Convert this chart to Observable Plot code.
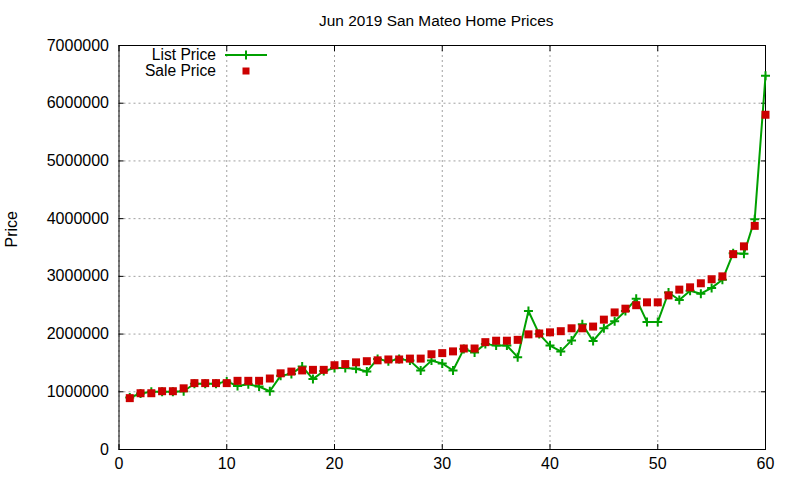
<!DOCTYPE html>
<html>
<head>
<meta charset="utf-8">
<script src="https://cdn.jsdelivr.net/npm/d3@7"></script>
<script src="https://cdn.jsdelivr.net/npm/@observablehq/plot@0.6"></script>
<style>
  html, body { margin: 0; padding: 0; background: white; }
  #wrap { position: relative; width: 800px; height: 480px; font-family: "Liberation Sans", Arial, sans-serif; }
  #legend { position: absolute; left: 0; top: 0; width: 800px; height: 480px; pointer-events: none; }
  .lg { position: absolute; left: 0; width: 216px; text-align: right; font-size: 15.6px; line-height: 16px; color: #000; white-space: nowrap; }
</style>
</head>
<body>
<div id="wrap"></div>
<script>
// ---- data ----
const rank = [1,2,3,4,5,6,7,8,9,10,11,12,13,14,15,16,17,18,19,20,21,22,23,24,25,26,27,28,29,30,31,32,33,34,35,36,37,38,39,40,41,42,43,44,45,46,47,48,49,50,51,52,53,54,55,56,57,58,59,60];
const listPrice = [900000,970000,1000000,1000000,1000000,1010000,1140000,1140000,1140000,1180000,
  1100000,1130000,1090000,1010000,1280000,1310000,1440000,1220000,1360000,1410000,
  1410000,1400000,1350000,1570000,1530000,1570000,1540000,1370000,1540000,1490000,
  1370000,1740000,1680000,1830000,1800000,1800000,1600000,2400000,2000000,1800000,
  1700000,1890000,2170000,1880000,2100000,2220000,2400000,2610000,2210000,2210000,
  2720000,2590000,2750000,2700000,2800000,2940000,3400000,3390000,3990000,6475000];
const salePrice = [890000,975000,975000,1010000,1010000,1060000,1150000,1150000,1150000,1150000,
  1190000,1190000,1190000,1230000,1320000,1350000,1370000,1380000,1380000,1460000,
  1480000,1510000,1530000,1545000,1560000,1560000,1575000,1575000,1650000,1670000,
  1700000,1750000,1750000,1860000,1885000,1885000,1900000,1995000,2010000,2030000,
  2050000,2100000,2100000,2130000,2250000,2375000,2440000,2500000,2550000,2550000,
  2670000,2770000,2810000,2880000,2950000,3000000,3385000,3520000,3875000,5800000];
const xTicks = [0,10,20,30,40,50,60];
const yTicks = [0,1000000,2000000,3000000,4000000,5000000,6000000,7000000];
const titleText = "Jun 2019 San Mateo Home Prices";
const yLabel = "Price";
const seriesNames = ["List Price", "Sale Price"];

const green = "#00a000";
const red = "#cc0000";

const data = rank.map((r, i) => ({rank: r, list: listPrice[i], sale: salePrice[i]}));

const plusSymbol = {draw(ctx) { const a = 4.5; ctx.moveTo(-a, 0); ctx.lineTo(a, 0); ctx.moveTo(0, -a); ctx.lineTo(0, a); }};
const squareSymbol = {draw(ctx) { const h = 4; ctx.rect(-h, -h, 2 * h, 2 * h); }};

const gridStyle = {stroke: "#a0a0a0", strokeOpacity: 1, strokeWidth: 1, strokeDasharray: "2,3"};

const chart = Plot.plot({
  width: 800,
  height: 480,
  marginLeft: 118.5,
  marginRight: 35,
  marginTop: 45,
  marginBottom: 31,
  style: {fontFamily: "'Liberation Sans', Arial, sans-serif", fontSize: "16px", background: "white", color: "black", overflow: "visible"},
  x: {domain: [0, 60]},
  y: {domain: [0, 7000000]},
  marks: [
    Plot.gridX(xTicks, gridStyle),
    Plot.gridY(yTicks, gridStyle),
    // inward ticks on all four sides
    Plot.axisX(xTicks, {anchor: "bottom", tickSize: 5, dy: -5, tickFormat: () => "", label: null}),
    Plot.axisX(xTicks, {anchor: "top", tickSize: 5, dy: 5, tickFormat: () => "", label: null}),
    Plot.axisY(yTicks, {anchor: "left", tickSize: 5, dx: 5, tickFormat: () => "", label: null}),
    Plot.axisY(yTicks, {anchor: "right", tickSize: 5, dx: -5, tickFormat: () => "", label: null}),
    // tick labels
    Plot.axisX(xTicks, {anchor: "bottom", tickSize: 0, tickPadding: 8, tickFormat: d => String(d), label: null, fontSize: 16}),
    Plot.axisY(yTicks, {anchor: "left", tickSize: 0, tickPadding: 10, tickFormat: d => String(d), label: null, fontSize: 16}),
    Plot.frame({stroke: "black", strokeWidth: 1}),
    // series
    Plot.line(data, {x: "rank", y: "list", stroke: green, strokeWidth: 2}),
    Plot.dot(data, {x: "rank", y: "list", symbol: plusSymbol, stroke: green, strokeWidth: 2, fill: "none"}),
    Plot.dot(data, {x: "rank", y: "sale", symbol: squareSymbol, fill: red, stroke: "none"}),
    // title and y label
    Plot.text([titleText], {text: d => d, frameAnchor: "top", lineAnchor: "middle", dy: -24, dx: -6, fontSize: 15.4}),
    Plot.text([yLabel], {text: d => d, frameAnchor: "left", rotate: -90, lineAnchor: "middle", dx: -107.5, fontSize: 16})
  ]
});

const wrap = document.getElementById("wrap");
wrap.appendChild(chart);

// legend overlay
const lg = document.createElement("div");
lg.id = "legend";
lg.innerHTML = `
  <div class="lg" style="top:47px">${seriesNames[0]}</div>
  <div class="lg" style="top:63px">${seriesNames[1]}</div>
  <svg width="800" height="480" style="position:absolute;left:0;top:0">
    <line x1="225" y1="55" x2="267" y2="55" stroke="${green}" stroke-width="2"/>
    <path d="M241.5,55H250.5M246,50.5V59.5" stroke="${green}" stroke-width="2" fill="none"/>
    <rect x="242.5" y="67.5" width="7" height="7" fill="${red}"/>
  </svg>`;
wrap.appendChild(lg);
</script>
</body>
</html>
